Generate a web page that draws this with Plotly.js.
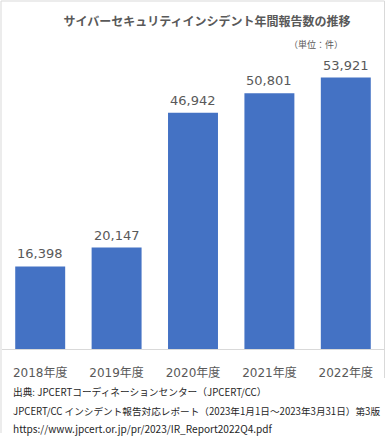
<!DOCTYPE html>
<html>
<head>
<meta charset="utf-8">
<script src="https://cdn.plot.ly/plotly-3.0.1.min.js"></script>
<style>
html,body{margin:0;padding:0;background:#fff;}
#chart{width:387px;height:438px;}
</style>
</head>
<body>
<div id="chart"></div>
<script>
const categories = ["2018年度", "2019年度", "2020年度", "2021年度", "2022年度"];
const reports = [16398, 20147, 46942, 50801, 53921];
const valueLabels = ["16,398", "20,147", "46,942", "50,801", "53,921"];
const titleText = "サイバーセキュリティインシデント年間報告数の推移";
const unitText = "（単位：件）";
const sourceLines = [
  "出典: JPCERTコーディネーションセンター（JPCERT/CC）",
  "JPCERT/CC インシデント報告対応レポート（2023年1月1日～2023年3月31日）第3版",
  "https://www.jpcert.or.jp/pr/2023/IR_Report2022Q4.pdf"
];

const W = 387, Hh = 438;
const L = 2, R = 3, T = 47, B = 89;
const PW = W - L - R, PH = Hh - T - B;
const px2x = px => (px - L) / PW;
const py2y = py => (Hh - B - py) / PH;

const FONT = "DejaVu Sans, Noto Sans CJK JP, sans-serif";
const JFONT = "Noto Sans CJK JP, sans-serif";
const GRAY = "#595959";
const BORDER = "#d9d9d9";

const annotations = categories.map((c, i) => ({
  x: c, y: reports[i], xref: "x", yref: "y",
  text: valueLabels[i], showarrow: false,
  xanchor: "center", yanchor: "bottom", yshift: 3,
  font: {family: FONT, size: 13, color: GRAY}
}));
annotations.push({
  xref: "paper", yref: "paper", x: px2x(345), y: py2y(44),
  xanchor: "right", yanchor: "middle", text: unitText, showarrow: false,
  font: {family: JFONT, size: 9, color: GRAY}
});
const srcY = [392, 411, 428];
const srcSize = [9.7, 9.65, 10.1];
sourceLines.forEach((t, i) => annotations.push({
  xref: "paper", yref: "paper", x: px2x(11), y: py2y(srcY[i]),
  xanchor: "left", yanchor: "middle", text: t, showarrow: false,
  font: {family: JFONT, size: srcSize[i], color: "#262626"}
}));

const shapes = [
  {type: "line", xref: "paper", yref: "paper", x0: px2x(1), x1: px2x(384.5), y0: py2y(1), y1: py2y(1), line: {color: BORDER, width: 1}},
  {type: "line", xref: "paper", yref: "paper", x0: px2x(1), x1: px2x(1), y0: py2y(1), y1: py2y(433), line: {color: BORDER, width: 1}},
  {type: "line", xref: "paper", yref: "paper", x0: px2x(384.5), x1: px2x(384.5), y0: py2y(1), y1: py2y(378), line: {color: BORDER, width: 1}}
];

const data = [{
  type: "bar", x: categories, y: reports,
  marker: {color: "#4472C4", line: {width: 0}},
  hoverinfo: "skip"
}];

const layout = {
  width: W, height: Hh,
  margin: {l: L, r: R, t: T, b: B, autoexpand: false},
  paper_bgcolor: "#fff", plot_bgcolor: "#fff",
  bargap: 0.346,
  showlegend: false,
  title: {
    text: titleText, x: 207 / W, xanchor: "center",
    y: 1 - 22 / Hh, yanchor: "middle", yref: "container",
    font: {family: JFONT, size: 12, color: GRAY, weight: "bold"}
  },
  xaxis: {
    showline: true, linecolor: BORDER, linewidth: 1,
    ticks: "", showgrid: false, zeroline: false,
    tickfont: {family: FONT, size: 12, color: GRAY},
    ticklabelstandoff: 13,
    fixedrange: true
  },
  yaxis: {
    range: [0, 60000], visible: false, showgrid: false, zeroline: false,
    fixedrange: true
  },
  annotations: annotations,
  shapes: shapes
};

Plotly.newPlot("chart", data, layout, {displayModeBar: false, staticPlot: true});
</script>
</body>
</html>
